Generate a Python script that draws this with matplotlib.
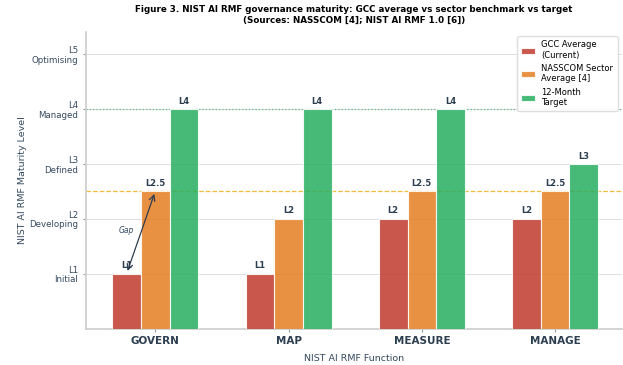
import numpy as np
import matplotlib
matplotlib.use("Agg")
import matplotlib.pyplot as plt

# data
functions = ['GOVERN', 'MAP', 'MEASURE', 'MANAGE']
gcc_avg = [1, 1, 2, 2]
nasscom_avg = [2.5, 2, 2.5, 2.5]
target = [4, 4, 4, 3]
level_ticks = [1, 2, 3, 4, 5]
level_labels = ['L1\nInitial', 'L2\nDeveloping', 'L3\nDefined', 'L4\nManaged', 'L5\nOptimising']
series_names = ['GCC Average\n(Current)', 'NASSCOM Sector\nAverage [4]', '12-Month\nTarget']
colors = ['#c0392b', '#e67e22', '#27ae60']
text_col = '#2c3e50'

fig, ax = plt.subplots(figsize=(6.23, 3.65), dpi=100)
fig.subplots_adjust(left=0.138, right=0.998, top=0.912, bottom=0.10)

x = np.arange(len(functions))
w = 0.215
offsets = [-w, 0, w]
for vals, off, c, name in zip([gcc_avg, nasscom_avg, target], offsets, colors, series_names):
    bars = ax.bar(x + off, vals, w, color=c, alpha=0.85, edgecolor='white', linewidth=0.8,
                  label=name, zorder=3)
    for b, v in zip(bars, vals):
        lbl = 'L%g' % v
        ax.text(b.get_x() + b.get_width() / 2, v + 0.06, lbl, ha='center', va='bottom',
                fontsize=6, fontweight='bold', color=text_col, zorder=5)

# reference lines
ax.axhline(4, color='#27ae60', linestyle=':', linewidth=0.9, alpha=0.7, zorder=2)
ax.axhline(2.5, color='#f0b429', linestyle='--', linewidth=0.9, alpha=0.9, zorder=2)

# gap annotation on GOVERN
ax.annotate('', xy=(0, 2.5), xytext=(-w, 1.0),
            arrowprops=dict(arrowstyle='<->', color=text_col, lw=0.9), zorder=6)
ax.text(-w, 1.78, 'Gap', fontsize=5.5, style='italic', color='#34495e',
        ha='center', va='center')

ax.set_xticks(x)
ax.set_xticklabels(functions, fontsize=7.5, fontweight='bold', color=text_col)
ax.set_yticks(level_ticks)
ax.set_yticklabels(level_labels, fontsize=6.2, color='#34495e', linespacing=1.1)
ax.set_xlim(-0.52, 3.5)
ax.set_ylim(0, 5.4)
ax.set_xlabel('NIST AI RMF Function', fontsize=6.8, color='#34495e', labelpad=6)
ax.set_ylabel('NIST AI RMF Maturity Level', fontsize=6.8, color='#34495e', labelpad=2)
ax.set_title('Figure 3. NIST AI RMF governance maturity: GCC average vs sector benchmark vs target\n'
             '(Sources: NASSCOM [4]; NIST AI RMF 1.0 [6])',
             fontsize=6.3, fontweight='bold', color='black', pad=7, linespacing=1.15)

ax.yaxis.grid(True, color='#dddddd', linewidth=0.7, zorder=0)
ax.set_axisbelow(True)
for s in ['top', 'right']:
    ax.spines[s].set_visible(False)
for s in ['left', 'bottom']:
    ax.spines[s].set_color('#cccccc')
    ax.spines[s].set_linewidth(1.2)
ax.tick_params(axis='both', length=2, color='#999999')

ax.legend(loc='upper right', fontsize=6, frameon=True, framealpha=0.95, edgecolor='#dddddd',
          handlelength=1.6, borderpad=0.5, labelspacing=0.5)

plt.savefig('out.png', dpi=100)
